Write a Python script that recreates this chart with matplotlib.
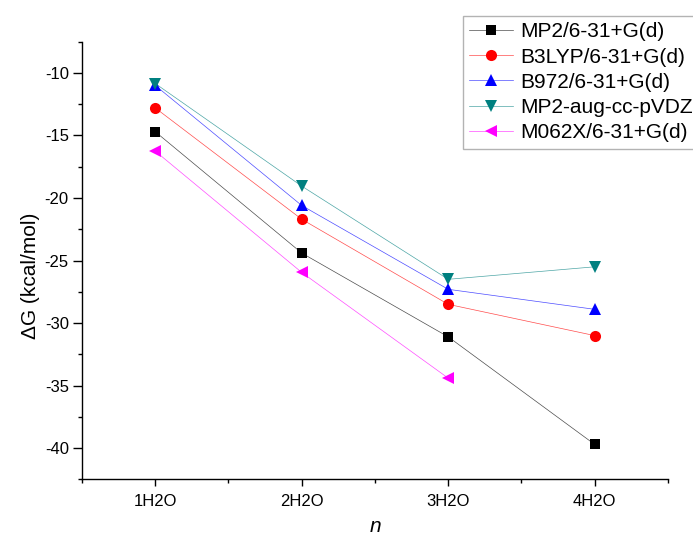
import numpy as np
import matplotlib.pyplot as plt
from matplotlib.colors import to_rgba
from matplotlib.ticker import MultipleLocator

plt.rcParams['font.family'] = ['Liberation Sans', 'DejaVu Sans']
plt.rcParams['axes.unicode_minus'] = False

# categories (x axis)
categories = ["1H2O", "2H2O", "3H2O", "4H2O"]

# ΔG values (kcal/mol)
mp2 = [-14.7, -24.4, -31.1, -39.7]
b3lyp = [-12.8, -21.7, -28.5, -31.0]
b972 = [-11.0, -20.6, -27.3, -28.9]
mp2_aug = [-10.85, -19.05, -26.5, -25.5]
m062x = [-16.25, -25.95, -34.4]

series_labels = ["MP2/6-31+G(d)", "B3LYP/6-31+G(d)", "B972/6-31+G(d)",
                 "MP2-aug-cc-pVDZ", "M062X/6-31+G(d)"]

# styles per series: (color, marker, markersize)
styles = [
    ('#000000', 's', 7),
    ('#ff0000', 'o', 8),
    ('#0000ff', '^', 9),
    ('#008080', 'v', 9),
    ('#ff00ff', '<', 9),
]

fig = plt.figure(figsize=(6.93, 5.41), dpi=100)
ax = fig.add_axes([0.1183, 0.1137, 0.8456, 0.8094])

x = np.arange(1, len(categories) + 1)
for vals, label, (c, m, ms) in zip([mp2, b3lyp, b972, mp2_aug, m062x], series_labels, styles):
    # thin, slightly faded line with a solid marker (Origin look)
    ax.plot(x[:len(vals)], vals, color=to_rgba(c, 0.7), linewidth=0.5,
            marker=m, markersize=ms, markerfacecolor=c, markeredgewidth=0,
            label=label)

# axes limits / ticks
ax.set_xlim(0.5, 4.5)
ax.set_ylim(-42.5, -7.5)
ax.set_xticks(x)
ax.set_xticklabels(categories)
ax.set_xticks([0.5, 1.5, 2.5, 3.5, 4.5], minor=True)
ax.yaxis.set_major_locator(MultipleLocator(5))
ax.yaxis.set_minor_locator(MultipleLocator(2.5))

ax.spines['top'].set_visible(False)
ax.spines['right'].set_visible(False)
for s in ['left', 'bottom']:
    ax.spines[s].set_linewidth(1.0)

ax.tick_params(axis='both', which='both', direction='out', labelsize=12, width=1.0)
ax.tick_params(axis='x', which='major', length=5, pad=5.5)
ax.tick_params(axis='y', which='major', length=6.5, pad=3)
ax.tick_params(axis='both', which='minor', length=3)

ax.set_ylabel('ΔG (kcal/mol)', fontsize=15)
ax.yaxis.set_label_coords(-0.072, 0.465)
ax.set_xlabel('n', fontsize=15, style='italic', labelpad=5.5)

# legend sticks out past the right edge like the original
leg = ax.legend(loc='upper left', bbox_to_anchor=(0.6677, 0.9704),
                bbox_transform=fig.transFigure, fontsize=15, frameon=True,
                fancybox=False, borderpad=0.3, labelspacing=0.3,
                handlelength=2.1, handletextpad=0.35, borderaxespad=0)
leg.get_frame().set_edgecolor('#a0a0a0')
leg.get_frame().set_linewidth(1.0)

plt.savefig('out.png', dpi=100)
